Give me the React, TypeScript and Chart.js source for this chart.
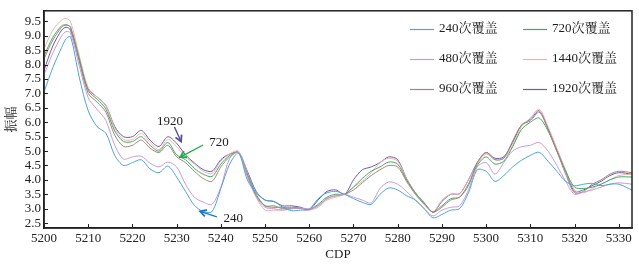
import React, { useEffect, useRef } from 'react';
import { Chart, registerables } from 'chart.js';
Chart.register(...registerables);

const CDP = [5200, 5202, 5204, 5205, 5206, 5208, 5210, 5212, 5214, 5216, 5218, 5220, 5222, 5224, 5226, 5228, 5230, 5232, 5234, 5236, 5238, 5240, 5242, 5244, 5246, 5248, 5250, 5252, 5254, 5256, 5258, 5260, 5262, 5264, 5266, 5268, 5270, 5272, 5274, 5276, 5278, 5280, 5282, 5284, 5286, 5288, 5290, 5292, 5294, 5296, 5298, 5300, 5302, 5304, 5306, 5308, 5310, 5312, 5314, 5316, 5318, 5320, 5322, 5324, 5326, 5328, 5330, 5333];

const S240 = [7.05, 7.9, 8.6, 8.9, 8.97, 7.55, 6.4, 5.85, 5.62, 4.85, 4.5, 4.6, 4.7, 4.38, 4.25, 4.48, 4.1, 3.6, 3.12, 2.9, 2.9, 3.7, 4.55, 4.93, 4.0, 3.55, 3.3, 3.25, 3.05, 2.93, 2.95, 2.98, 3.35, 3.55, 3.6, 3.5, 3.35, 3.22, 3.15, 3.5, 3.72, 3.65, 3.45, 3.3, 3.0, 2.68, 2.8, 2.95, 3.0, 3.55, 4.35, 4.3, 3.95, 4.15, 4.45, 4.68, 4.85, 4.96, 4.65, 4.3, 3.95, 3.8, 3.85, 3.88, 3.8, 3.85, 3.85, 3.65];
const S480 = [7.65, 8.4, 9.0, 9.15, 9.1, 7.95, 6.85, 6.45, 6.06, 5.2, 4.72, 4.8, 4.82, 4.58, 4.45, 4.62, 4.45, 3.85, 3.4, 3.23, 3.15, 3.75, 4.75, 4.95, 4.1, 3.4, 3.05, 3.0, 2.95, 3.0, 3.02, 3.0, 3.1, 3.35, 3.45, 3.5, 3.4, 3.3, 3.2, 3.7, 3.93, 3.85, 3.6, 3.3, 3.0, 2.75, 2.95, 3.05, 3.1, 3.65, 4.45, 4.6, 4.2, 4.6, 5.0, 5.15, 5.2, 5.3, 5.0, 4.5, 3.95, 3.5, 3.58, 3.65, 3.75, 3.85, 3.9, 3.85];
const S960 = [8.2, 8.85, 9.3, 9.38, 9.3, 8.1, 7.0, 6.7, 6.35, 5.55, 5.16, 5.2, 5.38, 5.1, 4.95, 5.2, 4.8, 4.6, 4.3, 4.05, 3.95, 4.45, 4.8, 4.95, 4.15, 3.45, 3.1, 3.1, 3.0, 3.05, 3.02, 2.98, 3.1, 3.35, 3.45, 3.5, 3.65, 3.9, 4.15, 4.35, 4.5, 4.45, 3.95, 3.5, 3.15, 2.88, 3.05, 3.3, 3.4, 3.8, 4.6, 4.95, 4.7, 4.75, 5.35, 5.9, 6.05, 6.35, 5.75, 5.0, 4.2, 3.55, 3.6, 3.85, 4.0, 4.2, 4.3, 4.25];
const S720 = [8.3, 8.95, 9.35, 9.38, 9.3, 8.2, 7.1, 6.8, 6.46, 5.7, 5.33, 5.33, 5.5, 5.2, 5.0, 5.3, 4.87, 4.7, 4.4, 4.2, 4.12, 4.55, 4.85, 4.95, 4.2, 3.5, 3.1, 3.05, 3.05, 3.0, 3.02, 2.97, 3.15, 3.4, 3.5, 3.5, 3.75, 4.05, 4.3, 4.45, 4.62, 4.55, 4.0, 3.55, 3.2, 2.88, 3.1, 3.35, 3.4, 3.85, 4.5, 4.8, 4.55, 4.65, 5.15, 5.75, 6.0, 6.15, 5.7, 5.0, 4.3, 3.75, 3.7, 3.75, 3.85, 4.0, 4.1, 4.1];
const S1440 = [8.55, 9.2, 9.55, 9.6, 9.5, 8.3, 7.2, 6.88, 6.58, 5.8, 5.4, 5.4, 5.61, 5.3, 5.05, 5.4, 5.15, 4.8, 4.55, 4.3, 4.22, 4.65, 4.9, 5.0, 4.25, 3.4, 2.95, 2.95, 2.95, 3.0, 3.0, 2.95, 3.05, 3.3, 3.4, 3.5, 3.75, 3.95, 4.25, 4.6, 4.75, 4.65, 4.05, 3.55, 3.2, 2.9, 3.3, 3.5, 3.52, 4.0, 4.55, 4.9, 4.7, 4.75, 5.2, 5.85, 6.15, 6.45, 5.85, 5.1, 4.35, 3.65, 3.55, 3.7, 3.85, 4.0, 4.15, 4.2];
const S1920 = [7.8, 8.65, 9.2, 9.3, 9.2, 8.15, 7.15, 6.88, 6.58, 5.85, 5.5, 5.5, 5.72, 5.38, 5.16, 5.5, 5.27, 4.87, 4.59, 4.36, 4.3, 4.7, 4.9, 4.95, 4.3, 3.6, 3.3, 3.25, 3.1, 3.1, 3.05, 2.97, 3.3, 3.6, 3.65, 3.5, 4.0, 4.35, 4.45, 4.6, 4.8, 4.7, 4.05, 3.55, 3.2, 2.88, 3.25, 3.5, 3.52, 4.0, 4.6, 4.95, 4.75, 4.8, 5.3, 5.9, 6.1, 6.4, 5.8, 5.05, 4.3, 3.6, 3.65, 3.8, 3.95, 4.15, 4.25, 4.2];

const SERIES_LABELS = ['240次覆盖', '480次覆盖', '960次覆盖', '720次覆盖', '1440次覆盖', '1920次覆盖'];
const SERIES_VALUES = [S240, S480, S960, S720, S1440, S1920];
const SERIES_COLORS = ['#4fa3dc', '#c99bd3', '#a4857c', '#3fac62', '#f2b0ad', '#6b5ba8'];

const Y_TICKS = [2.5, 3.0, 3.5, 4.0, 4.5, 5.0, 5.5, 6.0, 6.5, 7.0, 7.5, 8.0, 8.5, 9.0, 9.5];
const X_TICKS = [5200, 5210, 5220, 5230, 5240, 5250, 5260, 5270, 5280, 5290, 5300, 5310, 5320, 5330];

// annotation labels and arrows (data units): [text, labelX, labelY, fromX, fromY, toX, toY, color]
const ANNOTATIONS: [string, number, number, number, number, number, number, string][] = [
  ['1920', 5228.5, 6.02, 5229.5, 5.84, 5231.0, 5.33, '#5a4a9c'],
  ['720', 5239.6, 5.31, 5236.0, 5.21, 5230.8, 4.79, '#22a84a'],
  ['240', 5242.8, 2.65, 5239.1, 2.72, 5235.3, 2.91, '#1f78c8'],
];

const SERIF = '"Liberation Serif", "Noto Serif CJK SC", "Noto Sans CJK SC", serif';

const decorPlugin = {
  id: 'decor',
  afterDraw(chart: any) {
    const { ctx, chartArea: a, scales } = chart;
    const xs = scales.x;
    const ys = scales.y;
    ctx.save();
    // frame
    ctx.strokeStyle = '#222';
    ctx.lineWidth = 1.5;
    ctx.strokeRect(a.left, a.top, a.right - a.left, a.bottom - a.top);
    // inward x ticks
    ctx.lineWidth = 1;
    X_TICKS.forEach((v) => {
      const px = Math.round(xs.getPixelForValue(v)) + 0.5;
      ctx.beginPath();
      ctx.moveTo(px, a.bottom);
      ctx.lineTo(px, a.bottom - 4);
      ctx.stroke();
    });
    Y_TICKS.forEach((v) => {
      const py = Math.round(ys.getPixelForValue(v)) + 0.5;
      ctx.beginPath();
      ctx.moveTo(a.left, py);
      ctx.lineTo(a.left + 4, py);
      ctx.stroke();
    });
    // legend
    ctx.font = '13px ' + SERIF;
    ctx.textBaseline = 'middle';
    ctx.textAlign = 'left';
    const cols = [410, 523];
    const rows = [29, 59, 89];
    SERIES_LABELS.forEach((lab, i) => {
      const col = Math.floor(i / 3);
      const row = i % 3;
      const lx = cols[col];
      const ly = rows[row];
      ctx.strokeStyle = SERIES_COLORS[i];
      ctx.lineWidth = 1.2;
      ctx.beginPath();
      ctx.moveTo(lx, ly + 0.5);
      ctx.lineTo(lx + 24, ly + 0.5);
      ctx.stroke();
      ctx.fillStyle = '#222';
      ctx.fillText(lab, lx + 29, ly);
    });
    // annotations
    ANNOTATIONS.forEach(([t, tx, ty, fx, fy, ex, ey, col]) => {
      const x0 = xs.getPixelForValue(fx);
      const y0 = ys.getPixelForValue(fy);
      const x1 = xs.getPixelForValue(ex);
      const y1 = ys.getPixelForValue(ey);
      ctx.strokeStyle = col;
      ctx.lineWidth = 1.3;
      ctx.beginPath();
      ctx.moveTo(x0, y0);
      ctx.lineTo(x1, y1);
      ctx.stroke();
      const ang = Math.atan2(y1 - y0, x1 - x0);
      const hl = 7;
      ctx.lineWidth = 1.8;
      ctx.beginPath();
      ctx.moveTo(x1 - hl * Math.cos(ang - 0.5), y1 - hl * Math.sin(ang - 0.5));
      ctx.lineTo(x1, y1);
      ctx.lineTo(x1 - hl * Math.cos(ang + 0.5), y1 - hl * Math.sin(ang + 0.5));
      ctx.stroke();
      ctx.fillStyle = '#222';
      ctx.textAlign = 'center';
      ctx.fillText(t, xs.getPixelForValue(tx), ys.getPixelForValue(ty));
    });
    ctx.restore();
  },
};

export default function App() {
  const ref = useRef<HTMLCanvasElement | null>(null);
  useEffect(() => {
    document.body.style.margin = '0';
    const canvas = ref.current;
    if (!canvas) return;
    const chart = new Chart(canvas, {
      type: 'line',
      data: {
        datasets: SERIES_LABELS.map((lab, i) => ({
          label: lab,
          data: CDP.map((x, j) => ({ x, y: SERIES_VALUES[i][j] })),
          borderColor: SERIES_COLORS[i],
          borderWidth: 1,
          pointRadius: 0,
          tension: 0.3,
          fill: false,
        })),
      },
      options: {
        animation: false,
        responsive: false,
        devicePixelRatio: 1,
        layout: { padding: { top: 5, right: 7, left: 0, bottom: 0 } },
        plugins: { legend: { display: false }, tooltip: { enabled: false } },
        scales: {
          x: {
            type: 'linear',
            min: 5200,
            max: 5333,
            afterBuildTicks: (s: any) => { s.ticks = X_TICKS.map((v) => ({ value: v })); },
            afterFit: (s: any) => { s.height = 36; },
            grid: { display: false, drawTicks: false },
            border: { display: true, color: '#222', width: 1.5 },
            ticks: { color: '#222', font: { family: SERIF, size: 13 }, padding: 3, maxRotation: 0, autoSkip: false, callback: (v: any) => String(v) },
            title: { display: true, text: 'CDP', color: '#222', font: { family: SERIF, size: 13 }, padding: { top: 0, bottom: 2 } },
          },
          y: {
            type: 'linear',
            min: 2.33,
            max: 9.87,
            afterBuildTicks: (s: any) => { s.ticks = Y_TICKS.map((v) => ({ value: v })); },
            afterFit: (s: any) => { s.width = 44; },
            grid: { display: false, drawTicks: false },
            border: { display: true, color: '#222', width: 1.5 },
            ticks: { color: '#222', font: { family: SERIF, size: 13 }, padding: 3, autoSkip: false, callback: (v: any) => Number(v).toFixed(1) },
            title: { display: true, text: '振幅', color: '#222', font: { family: SERIF, size: 13 }, padding: { top: 4, bottom: 0 } },
          },
        },
      },
      plugins: [decorPlugin],
    } as any);
    return () => chart.destroy();
  }, []);
  return (
    <div style={{ position: 'absolute', left: 0, top: 0, width: 639, height: 264, background: '#fff' }}>
      <canvas ref={ref} width={639} height={264} style={{ display: 'block' }} />
    </div>
  );
}
